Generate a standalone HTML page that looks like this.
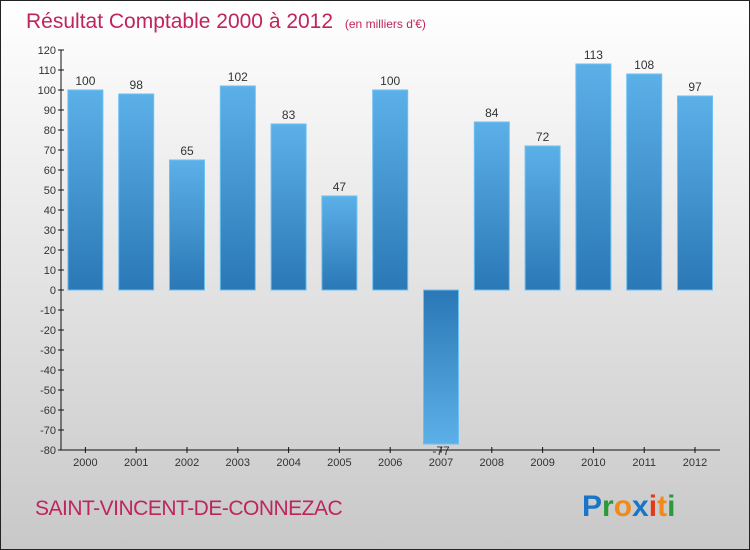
<!DOCTYPE html>
<html><head><meta charset="utf-8"><style>
body{margin:0}
#c{width:750px;height:550px;position:relative;overflow:hidden;font-family:"Liberation Sans",sans-serif}
</style></head><body>
<div id="c">
<svg width="750" height="550" xmlns="http://www.w3.org/2000/svg">
<defs>
<linearGradient id="bg" x1="0" y1="0" x2="0" y2="1"><stop offset="0" stop-color="#ffffff"/><stop offset="1" stop-color="#c8c8c8"/></linearGradient>
<linearGradient id="bp" x1="0" y1="0" x2="0" y2="1"><stop offset="0" stop-color="#5cb0e8"/><stop offset="1" stop-color="#2a78b6"/></linearGradient>
<linearGradient id="bn" x1="0" y1="0" x2="0" y2="1"><stop offset="0" stop-color="#2a78b6"/><stop offset="1" stop-color="#5cb0e8"/></linearGradient>
</defs>
<rect x="0.5" y="0.5" width="749" height="549" fill="url(#bg)" stroke="#222"/>
<text x="26" y="28" font-size="21" fill="#c0245e">Résultat Comptable 2000 à 2012 <tspan font-size="12" dx="6">(en milliers d'€)</tspan></text>
<g id="plot"></g>
<text x="35" y="515" font-size="21" fill="#c0245e" letter-spacing="-0.5">SAINT-VINCENT-DE-CONNEZAC</text>
<g font-size="30" font-weight="bold" font-family="'Liberation Sans',sans-serif">
<text x="582" y="516"><tspan fill="#1a75c8">P</tspan><tspan fill="#2a9a3a">r</tspan><tspan fill="#f08a1a">o</tspan><tspan fill="#1a75c8">x</tspan><tspan fill="#e03a1a">i</tspan><tspan fill="#f08a1a">t</tspan><tspan fill="#2a9a3a">i</tspan></text>
</g>
</svg>
</div>
<script>
const years=["2000","2001","2002","2003","2004","2005","2006","2007","2008","2009","2010","2011","2012"];
const values=[100,98,65,102,83,47,100,-77,84,72,113,108,97];
const yTicks=[120,110,100,90,80,70,60,50,40,30,20,10,0,-10,-20,-30,-40,-50,-60,-70,-80];
const NS="http://www.w3.org/2000/svg";
const g=document.getElementById('plot');
const y=v=>290-v*2;
const x=i=>85.4+i*50.8;
function mk(t,a){const e=document.createElementNS(NS,t);for(const k in a)e.setAttribute(k,a[k]);g.appendChild(e);return e;}
let ax=mk('line',{x1:61,y1:y(120),x2:61,y2:y(-80),stroke:'#111','stroke-width':1});


let bx=mk('line',{x1:61,y1:450,x2:720,y2:450,stroke:'#111','stroke-width':1});


yTicks.forEach(v=>{
 let l=mk('line',{x1:58,y1:y(v),x2:64,y2:y(v),stroke:'#111'});
 
 
 let t=mk('text',{x:56,y:y(v)+4,'text-anchor':'end','font-size':11,fill:'#333'});
 t.textContent=v;
 
 
});
years.forEach((yr,i)=>{
 const v=values[i];
 let r=mk('rect',{x:x(i)-17.5,y:Math.min(y(v),y(0)),width:35,height:Math.abs(y(v)-y(0)),fill:v>=0?'url(#bp)':'url(#bn)',stroke:'#6ec0f0','stroke-width':1});
 
 
 let l=mk('line',{x1:x(i),y1:447,x2:x(i),y2:453,stroke:'#111'});
 
 
 let t=mk('text',{x:x(i),y:466,'text-anchor':'middle','font-size':11,fill:'#333'});
 t.textContent=yr;
 
 
 let vt=mk('text',{x:x(i),y:v>=0?y(v)-5:y(v)+11,'text-anchor':'middle','font-size':12,fill:'#333'});
 vt.textContent=v;
 
 
});
</script>
</body></html>
